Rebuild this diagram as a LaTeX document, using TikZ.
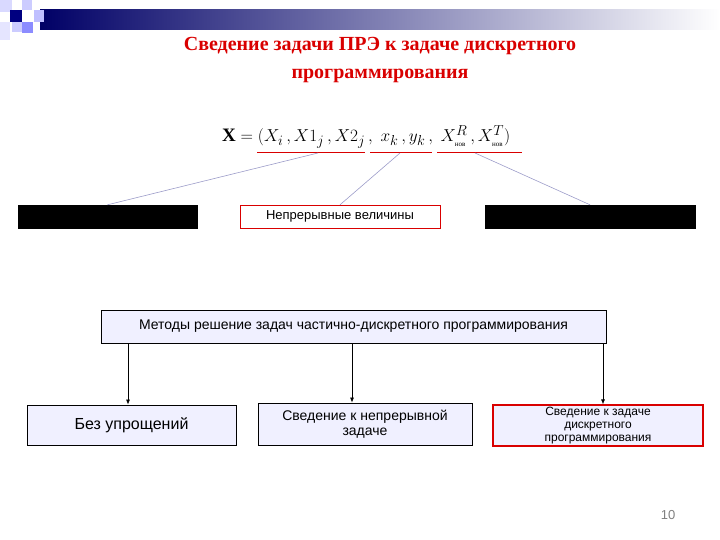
\documentclass[tikz,border=0pt]{standalone}
\usepackage{fontspec}
\setmainfont{Liberation Serif}
\newfontfamily\arialf{Liberation Sans}
\usetikzlibrary{arrows.meta}
\begin{document}
\begin{tikzpicture}[x=1pt,y=-1pt,
  box/.style={draw=black,fill=blue!6,line width=0.8pt,inner sep=2pt,font=\arialf\fontsize{14}{15}\selectfont,align=center},
  blk/.style={fill=black,draw=black,minimum height=23pt},
  conn/.style={draw=gray!70!blue!60,line width=0.6pt},
  arr/.style={-{Latex[length=5pt,width=4pt]},line width=0.7pt}]
\useasboundingbox (0,0) rectangle (720,540);
% decoration
\shade[left color=blue!40!black,right color=white] (40,10) rectangle (720,30);
\fill[blue!15] (0,0) rectangle (12,12);
\fill[blue!50!black] (10,10) rectangle (22,22);
\fill[blue!20] (22,0) rectangle (32,10);
\fill[blue!25] (34,10) rectangle (44,22);
\fill[blue!20] (12,22) rectangle (22,32);
\fill[blue!45] (22,22) rectangle (33,33);
\fill[blue!10] (0,22) rectangle (10,40);
% title
\node[text=red!85!black,font=\bfseries\fontsize{20}{28}\selectfont,align=center] (title) at (380,60) {Сведение задачи ПРЭ к задаче дискретного\\программирования};
% formula
\node[font=\fontsize{19}{22}\selectfont,anchor=west,inner sep=0pt] (f) at (222,137) {$\mathbf{X}=\Big(X_i\,,X1_j\,,X2_j\,,\;x_k\,,y_k\,,\;X^{R}_{\mbox{\scriptsize нов}}\,,X^{T}_{\mbox{\scriptsize нов}}\Big)$};
\coordinate (u1a) at (257,152); \coordinate (u1b) at (365,152);
\coordinate (u2a) at (370,152); \coordinate (u2b) at (432,152);
\coordinate (u3a) at (437,152); \coordinate (u3b) at (522,152);
\draw[red!85!black,line width=0.9pt] (u1a)--(u1b) (u2a)--(u2b) (u3a)--(u3b);
\coordinate (p1) at (318,153); \coordinate (p2) at (400,153); \coordinate (p3) at (475,153);
% boxes row 1
\node[blk,minimum width=179pt] (b1) at (107.5,216.5) {};
\node[blk,minimum width=210pt] (b3) at (590,216.5) {};
\node[draw=red!85!black,fill=white,minimum width=200pt,minimum height=23pt,font=\arialf\fontsize{13}{14}\selectfont] (b2) at (340,216.5) {Непрерывные величины};
\draw[conn] (p1)--(b1.north);
\draw[conn] (p2)--(b2.north);
\draw[conn] (p3)--(b3.north);
% methods
\node[box,minimum width=505pt,minimum height=33pt] (m) at (353.5,326.5) {Методы решение задач частично-дискретного программирования};
\node[box,minimum width=209pt,minimum height=40pt,font=\arialf\fontsize{16}{18}\selectfont] (c1) at (131.5,425) {Без упрощений};
\node[box,minimum width=214pt,minimum height=42pt] (c2) at (365,424) {Сведение к непрерывной\\задаче};
\node[box,draw=red!85!black,line width=1.2pt,minimum width=210pt,minimum height=41pt,font=\arialf\fontsize{12}{13}\selectfont] (c3) at (598,425.5) {Сведение к задаче\\дискретного\\программирования};
\draw[arr] (m.south -| 128,0) -- (c1.north -| 128,0);
\draw[arr] (m.south -| 352,0) -- (c2.north -| 352,0);
\draw[arr] (m.south -| 603,0) -- (c3.north -| 603,0);
\node[text=gray,font=\arialf\fontsize{13}{14}\selectfont] (pg) at (668,515) {10};
\end{tikzpicture}
\end{document}
